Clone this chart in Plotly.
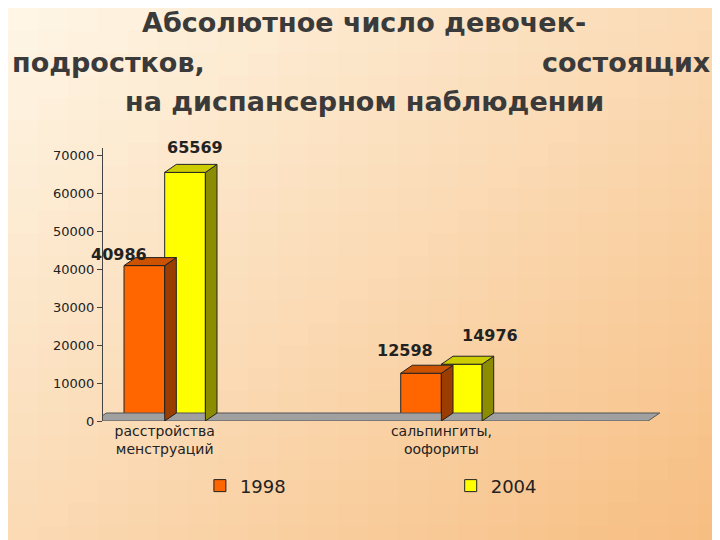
import plotly.graph_objects as go

categories = ["расстройства<br>менструаций", "сальпингиты,<br>оофориты"]
years = ["1998", "2004"]
values_1998 = [40986, 12598]
values_2004 = [65569, 14976]

W, H = 720, 540
L, R, T, B = 95, 665, 140, 413
bw = 0.147      # bar width in x units
dx, dy = 0.042, 2110  # 3d depth

fig = go.Figure()

# background gradient
shapes = []
n = 24
for i in range(n):
    for j in range(n):
        t = (i + j) / (2 * n - 2)
        c0, c1 = (255, 246, 230), (247, 190, 130)
        col = tuple(int(c0[k] + (c1[k] - c0[k]) * t) for k in range(3))
        x0, x1 = i * W / n, (i + 1) * W / n
        y0, y1 = j * H / n, (j + 1) * H / n
        shapes.append(dict(type="rect", xref="paper", yref="paper", layer="below",
                           x0=(x0 - L) / (R - L), x1=(x1 + 1 - L) / (R - L),
                           y0=(B - y1 - 1) / (B - T), y1=(B - y0) / (B - T),
                           line_width=0, fillcolor="rgb(%d,%d,%d)" % col))

# floor
xl, xr = -0.253, 1.747
fig.add_trace(go.Scatter(x=[xl, xr, xr + dx, xl + dx, xl], y=[0, 0, dy, dy, 0],
                         fill="toself", fillcolor="#A0A0A0", mode="lines",
                         line=dict(color="#555", width=1), showlegend=False, hoverinfo="skip"))

series = [(values_1998, -bw, "#FF6600", "#CC5200", "#993D00", "1998", "legend"),
          (values_2004, 0.0, "#FFFF00", "#CCCC00", "#8C8C00", "2004", "legend2")]
for vals, off, front, top, side, name, lg in series:
    for k, v in enumerate(vals):
        x0 = k + off
        x1 = x0 + bw
        fig.add_trace(go.Scatter(x=[x1, x1 + dx, x1 + dx, x1, x1], y=[0, dy, v + dy, v, 0],
                                 fill="toself", fillcolor=side, mode="lines",
                                 line=dict(color="#222", width=1), showlegend=False, hoverinfo="skip"))
        fig.add_trace(go.Scatter(x=[x0, x1, x1 + dx, x0 + dx, x0], y=[v, v, v + dy, v + dy, v],
                                 fill="toself", fillcolor=top, mode="lines",
                                 line=dict(color="#222", width=1), showlegend=False, hoverinfo="skip"))
    fig.add_trace(go.Bar(x=[0, 1], y=vals, offset=off, width=bw, name=name, legend=lg,
                         marker=dict(color=front, line=dict(color="#222", width=1))))

# value labels
ann = []
lab_pos = [(values_1998[0], -bw - 0.02, 0), (values_2004[0], bw * 0.75, dy + 1500),
           (values_1998[1], 1 - bw * 0.9, 3000), (values_2004[1], 1 + bw * 1.2, dy + 2500)]
for v, x, yo in lab_pos:
    ann.append(dict(x=x, y=v + yo, text=str(v), showarrow=False, yanchor="bottom",
                    font=dict(size=16, color="#222", family="DejaVu Sans", weight="bold")))

tfont = dict(size=27, color="#3a3a3a", family="DejaVu Sans", weight="bold")
for txt, x, y, xa in [("Абсолютное число девочек-", 356, 14, "center"),
                      ("подростков,", 2, 54, "left"),
                      ("состоящих", 704, 54, "right"),
                      ("на диспансерном наблюдении", 356, 94, "center")]:
    ann.append(dict(xref="paper", yref="paper", x=(x - L) / (R - L), y=(B - y) / (B - T),
                    text=txt, showarrow=False, xanchor=xa, yanchor="middle", font=tfont))

lgd = dict(orientation="h", y=-0.17, xanchor="left", yanchor="top",
           font=dict(size=18), bgcolor="rgba(0,0,0,0)")
fig.update_layout(
    width=W, height=H, margin=dict(l=L, r=W - R, t=T, b=H - B),
    paper_bgcolor="#FBE3C4", plot_bgcolor="rgba(0,0,0,0)",
    shapes=shapes, annotations=ann, barmode="overlay",
    font=dict(family="DejaVu Sans", color="#222"),
    legend=dict(lgd, x=0.17),
    legend2=dict(lgd, x=0.61),
    xaxis=dict(range=[xl + 0.03, xr + 0.09], tickvals=[0, 1], ticktext=categories,
               showgrid=False, zeroline=False, showline=False, tickfont=dict(size=14),
               ticks=""),
    yaxis=dict(range=[0, 72000], tickvals=list(range(0, 70001, 10000)), tickformat="d",
               showgrid=False, zeroline=False, showline=True, linecolor="#444",
               ticks="outside", ticklen=5, tickfont=dict(size=13)),
)

fig.write_html("out.html")
